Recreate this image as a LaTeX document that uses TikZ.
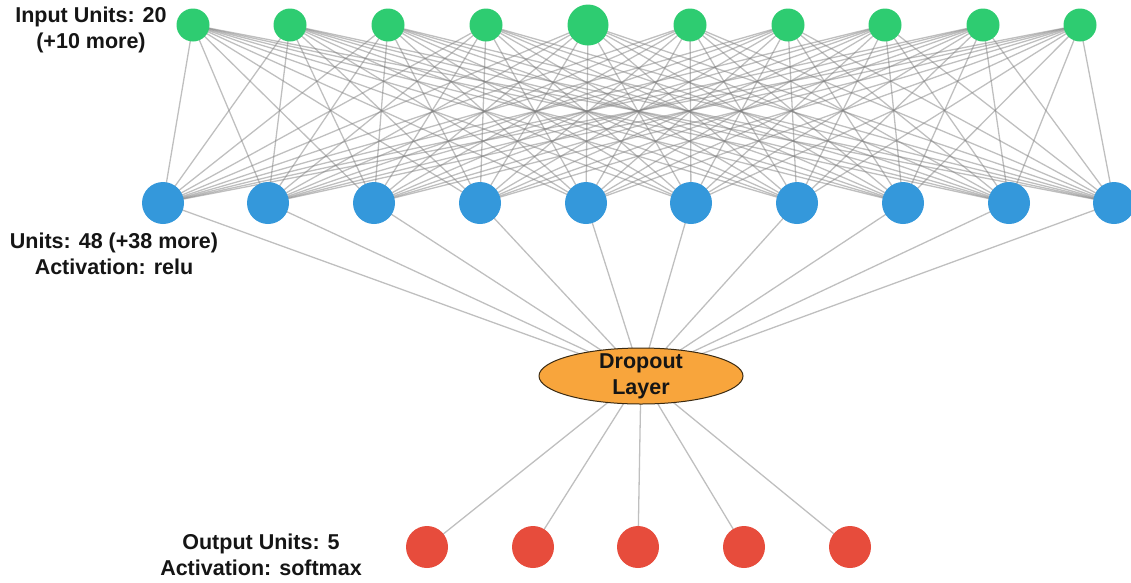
\documentclass[tikz,border=0pt]{standalone}
\usepackage{fontspec}
\setmainfont{Liberation Sans}
\usetikzlibrary{shapes.geometric}
\definecolor{ingreen}{HTML}{2ECC71}
\definecolor{hidblue}{HTML}{3498DB}
\definecolor{outred}{HTML}{E74C3C}
\definecolor{droporange}{HTML}{F8A53C}
\definecolor{dropline}{HTML}{3A2A12}
\definecolor{txt}{HTML}{151515}
\pgfdeclarelayer{bg}
\pgfsetlayers{bg,main}
\begin{document}
\begin{tikzpicture}[x=1pt,y=-1pt,
  unit/.style={circle,inner sep=0pt,draw=none},
  innode/.style={unit,fill=ingreen,minimum size=33pt},
  hidnode/.style={unit,fill=hidblue,minimum size=42pt},
  outnode/.style={unit,fill=outred,minimum size=42pt},
  edge/.style={draw=gray,opacity=0.5,line width=1.3pt},
  lbl/.style={font=\fontsize{21.5}{26}\selectfont\bfseries,text=txt,align=center,inner sep=0pt}]
\useasboundingbox (0,0) rectangle (1131,582);
% input layer
\foreach \x/\s [count=\i] in {193/33,290/33,388/33,486/33,588/41,690/33,788/33,885/33,983/33,1080/33}
  \node[innode,minimum size=\s pt] (i\i) at (\x,25) {};
% hidden layer
\foreach \x [count=\i] in {163,268,374,480,586,691,797,903,1009,1114}
  \node[hidnode] (h\i) at (\x,203) {};
% dropout
\node[ellipse,fill=droporange,draw=dropline,line width=1pt,minimum width=204pt,minimum height=56pt,inner sep=0pt] (drop) at (641,376) {};
\node[lbl] (droptxt) at (drop) {Dropout\\Layer};
% output layer
\foreach \x [count=\i] in {427,533,638,744,850}
  \node[outnode] (o\i) at (\x,547) {};
% edges
\begin{pgfonlayer}{bg}
  \foreach \a in {1,...,10}
    \foreach \b in {1,...,10}
      \draw[edge] (i\a.center) -- (h\b.center);
  \foreach \b in {1,...,10}
    \draw[edge] (h\b.center) -- (drop.center);
  \foreach \c in {1,...,5}
    \draw[edge] (drop.center) -- (o\c.center);
\end{pgfonlayer}
% labels
\node[lbl] (inlbl) at (91,30) {Input Units: 20\\(+10 more)};
\node[lbl] (hidlbl) at (114,254) {Units: 48 (+38 more)\\Activation: relu};
\node[lbl] (outlbl) at (261,555) {Output Units: 5\\Activation: softmax};
\end{tikzpicture}
\end{document}
